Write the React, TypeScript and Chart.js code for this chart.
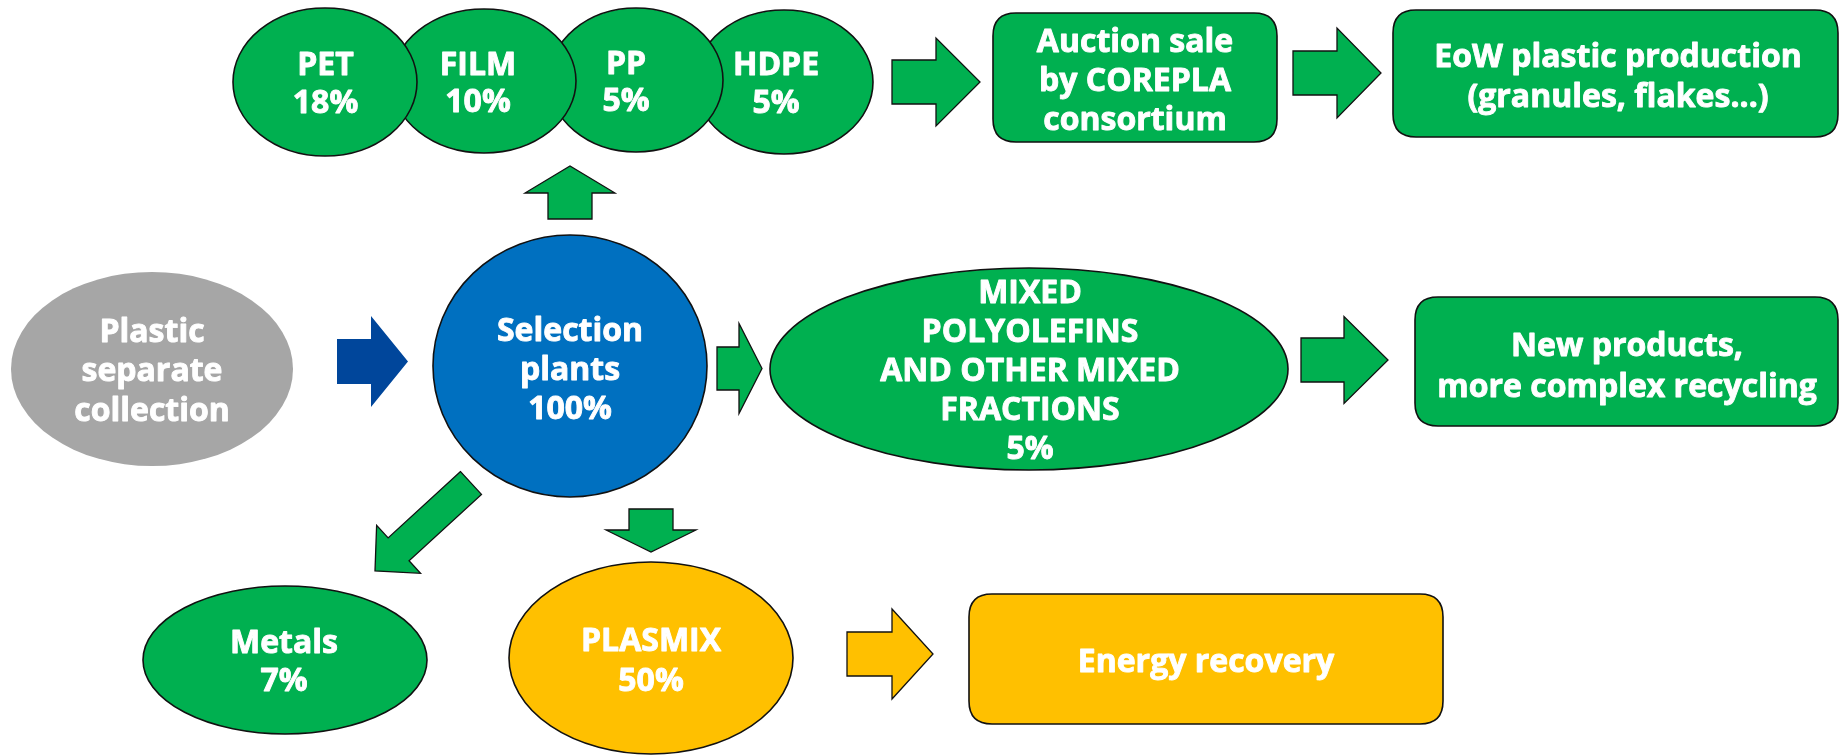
import React, { useEffect, useRef } from "react";
import { Chart, registerables } from "chart.js";

Chart.register(...registerables);

// ---------- content ----------
const nodeLabels: string[] = [
  "Plastic\nseparate\ncollection",
  "Selection\nplants",
  "HDPE",
  "PP",
  "FILM",
  "PET",
  "MIXED\nPOLYOLEFINS\nAND OTHER MIXED\nFRACTIONS",
  "Metals",
  "PLASMIX",
  "Auction sale\nby COREPLA\nconsortium",
  "EoW plastic production\n(granules, flakes...)",
  "New products,\nmore complex recycling",
  "Energy recovery",
];
const nodeShares: (number | null)[] = [null, 100, 5, 5, 10, 18, 5, 7, 50, null, null, null, null];

// ---------- layout (in units of the 0..1840 x 0..755 linear scales) ----------
const nodeShape: string[] = ["ellipse", "ellipse", "ellipse", "ellipse", "ellipse", "ellipse", "ellipse", "ellipse", "ellipse", "box", "box", "box", "box"];
const nodeCx: number[] = [152, 570, 784, 636, 484, 325, 1029, 285, 651, 1135, 1615.5, 1626.5, 1206];
const nodeCy: number[] = [369, 366, 82, 80, 81, 82, 369, 660, 658, 77.5, 73.5, 361.5, 659];
const nodeHalfW: number[] = [141, 137, 89, 87, 92, 92, 259, 142, 142, 142, 222.5, 211.5, 237];
const nodeHalfH: number[] = [97, 131, 72, 72, 72, 74, 101, 74, 96, 64.5, 63.5, 64.5, 65];
const nodeFill: string[] = ["#A6A6A6", "#0070C0", "#00B050", "#00B050", "#00B050", "#00B050", "#00B050", "#00B050", "#FFC000", "#00B050", "#00B050", "#00B050", "#FFC000"];
const nodeOutline: boolean[] = [false, true, true, true, true, true, true, true, true, true, true, true, true];
const labelX: number[] = [152, 570, 776, 626, 478, 325.5, 1030, 284, 651, 1135, 1618, 1627, 1206];
const labelY: number[] = [370, 369, 83, 81, 82, 82.5, 370, 661, 660, 80, 75.5, 365, 661];
const labelGap: number[] = [39.5, 39, 38, 37, 37, 38, 39, 38, 40, 39, 39.5, 41, 39];

// arrows: from (back centre) -> tip
const arrowFromX: number[] = [337, 570, 892, 1293, 717, 1301, 471, 651, 847];
const arrowFromY: number[] = [361.5, 219, 82, 73, 368.5, 360, 483, 509, 654];
const arrowToX: number[] = [408, 570, 980, 1381, 762, 1388, 375, 651, 933];
const arrowToY: number[] = [361.5, 166, 82, 73, 368.5, 360, 571, 552, 654];
const arrowShaft: number[] = [45, 44, 44, 44, 43, 44, 31, 44, 44];
const arrowHead: number[] = [91, 90, 88, 90, 90, 87, 65, 90, 90];
const arrowHeadLen: number[] = [37, 27, 44, 44, 23, 44, 32, 22, 41];
const arrowFill: string[] = ["#00469B", "#00B050", "#00B050", "#00B050", "#00B050", "#00B050", "#00B050", "#00B050", "#FFC000"];
const arrowOutline: boolean[] = [false, true, true, true, true, true, true, true, true];

const FONT_SIZE = 32;
const CAP = 0.714 * FONT_SIZE;

const diagramPlugin = {
  id: "diagram",
  afterDatasetsDraw(chart: any) {
    const ctx: CanvasRenderingContext2D = chart.ctx;
    const xs = chart.scales.x;
    const ys = chart.scales.y;
    const px = (v: number) => xs.getPixelForValue(v);
    const py = (v: number) => ys.getPixelForValue(v);
    const lx = (d: number) => Math.abs(px(d) - px(0));
    const ly = (d: number) => Math.abs(py(d) - py(0));

    ctx.save();
    // arrows
    for (let i = 0; i < arrowFromX.length; i++) {
      const x0 = px(arrowFromX[i]);
      const y0 = py(arrowFromY[i]);
      const x1 = px(arrowToX[i]);
      const y1 = py(arrowToY[i]);
      const dx = x1 - x0;
      const dy = y1 - y0;
      const len = Math.hypot(dx, dy);
      const ux = dx / len;
      const uy = dy / len;
      const nx = -uy;
      const ny = ux;
      const sw = lx(arrowShaft[i]) / 2;
      const hw = lx(arrowHead[i]) / 2;
      const hl = lx(arrowHeadLen[i]);
      const bx = x1 - ux * hl;
      const by = y1 - uy * hl;
      ctx.beginPath();
      ctx.moveTo(x0 + nx * sw, y0 + ny * sw);
      ctx.lineTo(bx + nx * sw, by + ny * sw);
      ctx.lineTo(bx + nx * hw, by + ny * hw);
      ctx.lineTo(x1, y1);
      ctx.lineTo(bx - nx * hw, by - ny * hw);
      ctx.lineTo(bx - nx * sw, by - ny * sw);
      ctx.lineTo(x0 - nx * sw, y0 - ny * sw);
      ctx.closePath();
      ctx.fillStyle = arrowFill[i];
      ctx.fill();
      if (arrowOutline[i]) {
        ctx.lineWidth = 1.3;
        ctx.strokeStyle = "#111";
        ctx.lineJoin = "miter";
        ctx.stroke();
      }
    }

    // nodes
    for (let i = 0; i < nodeLabels.length; i++) {
      const cx = px(nodeCx[i]);
      const cy = py(nodeCy[i]);
      const hw = lx(nodeHalfW[i]);
      const hh = ly(nodeHalfH[i]);
      ctx.beginPath();
      if (nodeShape[i] === "ellipse") {
        ctx.ellipse(cx, cy, hw, hh, 0, 0, Math.PI * 2);
      } else {
        const r = 23;
        const l = cx - hw, t = cy - hh, rgt = cx + hw, b = cy + hh;
        ctx.moveTo(l + r, t);
        ctx.lineTo(rgt - r, t);
        ctx.quadraticCurveTo(rgt, t, rgt, t + r);
        ctx.lineTo(rgt, b - r);
        ctx.quadraticCurveTo(rgt, b, rgt - r, b);
        ctx.lineTo(l + r, b);
        ctx.quadraticCurveTo(l, b, l, b - r);
        ctx.lineTo(l, t + r);
        ctx.quadraticCurveTo(l, t, l + r, t);
        ctx.closePath();
      }
      ctx.fillStyle = nodeFill[i];
      ctx.fill();
      if (nodeOutline[i]) {
        ctx.lineWidth = 1.6;
        ctx.strokeStyle = "#111";
        ctx.stroke();
      }

      const lines = nodeLabels[i].split("\n");
      if (nodeShares[i] !== null) lines.push(`${nodeShares[i]}%`);
      const tx = px(labelX[i]);
      const mid = py(labelY[i]);
      const gap = ly(labelGap[i]);
      ctx.fillStyle = "#FFFFFF";
      ctx.strokeStyle = "#FFFFFF";
      ctx.lineWidth = 0.9;
      ctx.lineJoin = "round";
      ctx.font = `bold ${FONT_SIZE}px "Open Sans", "Noto Sans", sans-serif`;
      ctx.textAlign = "center";
      ctx.textBaseline = "alphabetic";
      lines.forEach((s, k) => {
        const capCenter = mid + (k - (lines.length - 1) / 2) * gap;
        ctx.fillText(s, tx, capCenter + CAP / 2);
        ctx.strokeText(s, tx, capCenter + CAP / 2);
      });
    }
    ctx.restore();
  },
};

export default function App() {
  const canvasRef = useRef<HTMLCanvasElement | null>(null);

  useEffect(() => {
    if (!canvasRef.current) return;
    const chart = new Chart(canvasRef.current, {
      type: "scatter",
      data: {
        datasets: [
          {
            label: "nodes",
            data: nodeCx.map((x, i) => ({ x, y: nodeCy[i] })),
            pointRadius: 0,
            pointHoverRadius: 0,
            showLine: false,
          },
        ],
      },
      options: {
        animation: false,
        responsive: false,
        maintainAspectRatio: false,
        devicePixelRatio: 1,
        layout: { padding: 0 },
        events: [],
        plugins: {
          legend: { display: false },
          tooltip: { enabled: false },
          title: { display: false },
        },
        scales: {
          x: { type: "linear", min: 0, max: 1840, display: false },
          y: { type: "linear", min: 0, max: 755, reverse: true, display: false },
        },
      },
      plugins: [diagramPlugin],
    });
    return () => chart.destroy();
  }, []);

  return (
    <div style={{ position: "absolute", left: 0, top: 0, width: 1840, height: 755, background: "#fff" }}>
      <canvas ref={canvasRef} width={1840} height={755} style={{ display: "block" }} />
    </div>
  );
}
